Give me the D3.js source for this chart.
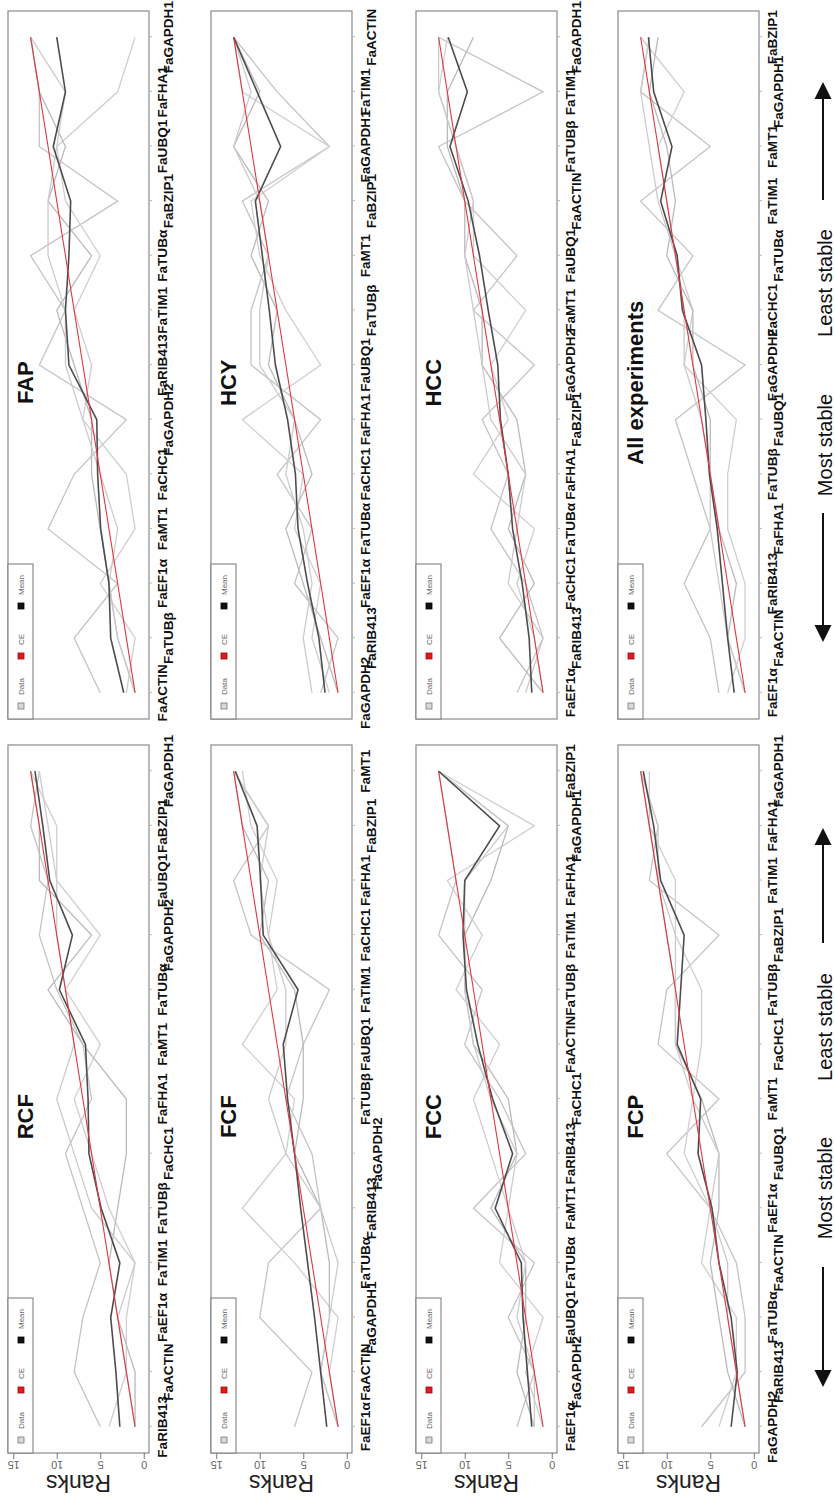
<!DOCTYPE html>
<html>
<head>
<meta charset="utf-8">
<script src="https://cdn.jsdelivr.net/npm/d3@7"></script>
<style>
  body { margin: 0; background: #fff; }
  svg { display: block; }
  text { font-family: "Liberation Sans", Arial, sans-serif; }
</style>
</head>
<body>
<svg id="fig" width="835" height="1501"></svg>
<script>
// ---- Data: gene orders, per-method ranks, mean rank and comprehensive (CE) rank ----
const ceRanks = [1, 2, 3, 4, 5, 6, 7, 8, 9, 10, 11, 12, 13];
const rankTicks = [0, 5, 10, 15];
const legendLabels = ["Data", "CE", "Mean"];

const rcfGenes = ["FaRIB413","FaACTIN","FaEF1α","FaTIM1","FaTUBβ","FaCHC1","FaFHA1","FaMT1","FaTUBα","FaGAPDH2","FaUBQ1","FaBZIP1","FaGAPDH1"];
const rcfSeries = [
  [5, 8, 7, 5, 7, 9, 6, 7, 10, 12, 11, 13, 12],
  [4, 2, 2, 1, 4, 6, 8, 5, 9, 5, 10, 10, 13],
  [1, 1, 3, 4, 3, 2, 2, 7, 11, 6, 12, 12, 13],
  [1, 2, 3, 1, 6, 8, 10, 8, 9, 10, 10, 11, 12]
];
const rcfMean = [2.75, 3.2, 3.8, 2.75, 4.9, 6.3, 6.4, 6.7, 9.7, 8.2, 10.8, 11.6, 12.5];

const fapGenes = ["FaACTIN","FaTUBβ","FaEF1α","FaMT1","FaCHC1","FaGAPDH2","FaRIB413","FaTIM1","FaTUBα","FaBZIP1","FaUBQ1","FaFHA1","FaGAPDH1"];
const fapSeries = [
  [5, 8, 3, 11, 8, 2, 12, 9, 13, 3, 12, 12, 13],
  [2, 1, 5, 1, 2, 7, 6, 8, 5, 9, 10, 3, 1],
  [1, 3, 4, 5, 6, 6, 8, 10, 6, 11, 9, 12, 13],
  [1, 3, 4, 3, 5, 7, 9, 9, 11, 11, 10, 9, 13]
];
const fapMean = [2.3, 3.8, 4.0, 4.95, 5.3, 5.4, 8.6, 9.0, 8.6, 8.4, 10.4, 9.0, 10.0];

const fcfGenes = ["FaEF1α","FaACTIN","FaGAPDH1","FaTUBα","FaRIB413","FaGAPDH2","FaTUBβ","FaUBQ1","FaTIM1","FaCHC1","FaFHA1","FaBZIP1","FaMT1"];
const fcfSeries = [
  [6, 4, 10, 9, 3, 4, 7, 5, 2, 11, 13, 9, 13],
  [1, 2, 1, 6, 12, 7, 6, 12, 8, 9, 8, 11, 12],
  [1, 3, 2, 2, 3, 6, 5, 5, 6, 10, 9, 12, 13],
  [1, 3, 2, 1, 3, 7, 9, 7, 7, 9, 10, 9, 13]
];
const fcfMean = [2.3, 3.0, 3.7, 4.5, 5.3, 6.0, 6.8, 7.3, 5.6, 9.6, 9.9, 10.3, 12.8];

const hcyGenes = ["FaGAPDH2","FaRIB413","FaEF1α","FaTUBα","FaCHC1","FaFHA1","FaUBQ1","FaTUBβ","FaMT1","FaBZIP1","FaGAPDH1","FaTIM1","FaACTIN"];
const hcySeries = [
  [3, 1, 6, 4, 8, 3, 11, 11, 9, 12, 2, 8, 13],
  [2, 4, 3, 6, 5, 12, 3, 7, 10, 11, 2, 12, 13],
  [1, 3, 5, 7, 4, 6, 9, 8, 11, 9, 13, 10, 13],
  [4, 5, 4, 5, 7, 6, 10, 10, 9, 10, 13, 11, 13]
];
const hcyMean = [2.5, 3.2, 4.5, 5.6, 5.9, 6.8, 8.2, 8.9, 9.7, 10.5, 7.6, 10.3, 13.0];

const fccGenes = ["FaEF1α","FaGAPDH2","FaUBQ1","FaTUBα","FaMT1","FaRIB413","FaCHC1","FaACTIN","FaTUBβ","FaTIM1","FaFHA1","FaGAPDH1","FaBZIP1"];
const fccSeries = [
  [4, 2, 5, 2, 9, 3, 6, 10, 8, 13, 11, 12, 13],
  [1, 3, 1, 6, 5, 7, 9, 6, 11, 8, 12, 2, 13],
  [2, 4, 3, 3, 7, 4, 5, 9, 10, 10, 7, 5, 13],
  [2, 2, 4, 3, 5, 4, 7, 9, 10, 10, 10, 5, 13]
];
const fccMean = [2.3, 2.8, 3.3, 3.5, 6.5, 4.5, 6.8, 8.5, 9.8, 10.2, 10.0, 6.0, 13.0];

const hccGenes = ["FaEF1α","FaRIB413","FaCHC1","FaTUBα","FaFHA1","FaBZIP1","FaGAPDH2","FaMT1","FaUBQ1","FaACTIN","FaTUBβ","FaTIM1","FaGAPDH1"];
const hccSeries = [
  [4, 1, 3, 7, 5, 8, 2, 9, 4, 10, 13, 1, 13],
  [1, 2, 4, 2, 9, 5, 7, 3, 9, 9, 11, 13, 12],
  [1, 6, 2, 5, 3, 4, 8, 8, 10, 10, 12, 12, 9],
  [3, 1, 5, 4, 3, 7, 8, 9, 10, 9, 11, 13, 13]
];
const hccMean = [2.3, 2.6, 3.4, 4.5, 5.0, 5.9, 6.2, 7.3, 8.3, 9.6, 11.7, 9.7, 11.9];

const fcpGenes = ["FaGAPDH2","FaRIB413","FaTUBα","FaACTIN","FaEF1α","FaUBQ1","FaMT1","FaCHC1","FaTUBβ","FaBZIP1","FaTIM1","FaFHA1","FaGAPDH1"];
const fcpSeries = [
  [6, 1, 1, 2, 5, 10, 4, 11, 10, 4, 12, 11, 13],
  [4, 2, 2, 6, 5, 8, 7, 6, 6, 9, 9, 12, 12],
  [1, 3, 4, 5, 4, 4, 6, 9, 9, 10, 11, 12, 13],
  [1, 2, 3, 3, 5, 4, 7, 9, 9, 9, 11, 11, 13]
];
const fcpMean = [2.6, 1.9, 2.6, 4.0, 4.8, 6.4, 6.1, 8.8, 8.4, 8.0, 10.7, 11.5, 12.7];

const allGenes = ["FaEF1α","FaACTIN","FaRIB413","FaFHA1","FaTUBβ","FaUBQ1","FaGAPDH2","FaCHC1","FaTUBα","FaTIM1","FaMT1","FaGAPDH1","FaBZIP1"];
const allSeries = [
  [4, 5, 8, 5, 7, 9, 1, 11, 7, 13, 5, 13, 12],
  [3, 1, 1, 3, 3, 2, 8, 7, 9, 10, 11, 8, 13],
  [1, 3, 2, 4, 5, 5, 7, 7, 10, 9, 10, 12, 11],
  [1, 3, 4, 5, 5, 6, 8, 8, 9, 11, 12, 13, 12]
];
const allMean = [2.25, 3.0, 3.6, 4.2, 5.1, 5.5, 6.0, 8.2, 8.8, 10.7, 9.4, 11.5, 12.1];

// ---- Label staggering (which text line each gene name sits on) ----
const rcfTiers = [0,1,0,0,0,1,0,0,0,1,0,0,1];
const fapTiers = [0,1,0,0,0,1,0,0,0,1,0,0,1];
const fcfTiers = [0,0,1,0,1,2,0,0,0,0,0,1,0];
const hcyTiers = [0,1,0,0,0,0,0,1,0,1,0,0,1];
const fccTiers = [0,1,0,0,0,0,1,0,0,0,0,1,0];
const hccTiers = [0,1,0,0,0,1,0,0,0,1,0,0,1];
const fcpTiers = [0,1,0,1,0,1,0,1,0,1,0,0,1];
const allTiers = [0,1,0,1,0,1,0,0,1,0,0,1,0];

// ---- Layout (drawn in landscape frame, then turned a quarter turn) ----
const FIG_W = 1501;
const rowTops = [8, 211, 416, 618];
const colLefts = [48, 782];
const PW = 708, PH = 141;

const panels = [
  { title: "RCF", genes: rcfGenes, series: rcfSeries, mean: rcfMean, tiers: rcfTiers, row: 0, col: 0 },
  { title: "FAP", genes: fapGenes, series: fapSeries, mean: fapMean, tiers: fapTiers, row: 0, col: 1 },
  { title: "FCF", genes: fcfGenes, series: fcfSeries, mean: fcfMean, tiers: fcfTiers, row: 1, col: 0 },
  { title: "HCY", genes: hcyGenes, series: hcySeries, mean: hcyMean, tiers: hcyTiers, row: 1, col: 1 },
  { title: "FCC", genes: fccGenes, series: fccSeries, mean: fccMean, tiers: fccTiers, row: 2, col: 0 },
  { title: "HCC", genes: hccGenes, series: hccSeries, mean: hccMean, tiers: hccTiers, row: 2, col: 1 },
  { title: "FCP", genes: fcpGenes, series: fcpSeries, mean: fcpMean, tiers: fcpTiers, row: 3, col: 0 },
  { title: "All experiments", genes: allGenes, series: allSeries, mean: allMean, tiers: allTiers, row: 3, col: 1 }
];

const greyShades = ["#c4c4c4", "#cfcfcf", "#bababa", "#cbcbcb"];
const legendFill = ["#d9d9d9", "#d81e1e", "#111"];
const legendStroke = ["#777", "#a00", "#000"];

const svg = d3.select("#fig");
const root = svg.append("g")
  .attr("transform", `translate(0,${FIG_W}) rotate(-90)`);

panels.forEach(p => {
  const L = colLefts[p.col], T = rowTops[p.row];
  const x = d3.scaleLinear().domain([0.52, 13.48]).range([L, L + PW]);
  const y = d3.scaleLinear().domain([-0.6, 15.6]).range([T + PH, T]);
  const g = root.append("g");

  const line = d3.line().x((d, i) => x(i + 1)).y(d => y(d));

  // method ranks
  g.selectAll("path.data").data(p.series).join("path")
    .attr("class", "data")
    .attr("d", line)
    .attr("fill", "none")
    .attr("stroke", (d, i) => greyShades[i % greyShades.length])
    .attr("stroke-width", 1.3);

  // mean rank
  g.append("path").datum(p.mean)
    .attr("d", line).attr("fill", "none")
    .attr("stroke", "#4d4d4d").attr("stroke-width", 1.6);

  // comprehensive evaluation
  g.append("path").datum(ceRanks)
    .attr("d", line).attr("fill", "none")
    .attr("stroke", "#e0383e").attr("stroke-width", 1.1);

  // frame
  g.append("rect")
    .attr("x", L).attr("y", T).attr("width", PW).attr("height", PH)
    .attr("fill", "none").attr("stroke", "#8a8a8a").attr("stroke-width", 1.2);

  // gene axis ticks
  const gx = g.append("g").attr("transform", `translate(0,${T + PH})`)
    .call(d3.axisBottom(x).tickValues(ceRanks).tickSize(3).tickFormat(""));
  gx.select(".domain").remove();
  gx.selectAll("line").attr("stroke", "#b8b8b8");

  // gene labels
  g.selectAll("text.gene").data(p.genes).join("text")
    .attr("class", "gene")
    .attr("transform", (d, i) =>
      `translate(${x(i + 1)},${T + PH + 18 + p.tiers[i] * 6}) scale(1.13,1)`)
    .attr("text-anchor", "middle")
    .attr("font-size", 12)
    .attr("font-weight", "bold")
    .attr("fill", "#111")
    .text(d => d);

  // title
  g.append("text")
    .attr("x", L + PW * 0.475).attr("y", T + 25)
    .attr("text-anchor", "middle")
    .attr("font-size", 22).attr("font-weight", "bold").attr("fill", "#111")
    .text(p.title);

  // legend
  const lg = g.append("g");
  lg.append("rect").attr("x", L).attr("y", T).attr("width", 155).attr("height", 25)
    .attr("fill", "#fff").attr("stroke", "#777").attr("stroke-width", 1);
  legendLabels.forEach((lab, i) => {
    const cx = L + 13 + i * 50;
    lg.append("rect").attr("x", cx - 3).attr("y", T + 10).attr("width", 6).attr("height", 6)
      .attr("fill", legendFill[i]).attr("stroke", legendStroke[i]).attr("stroke-width", 0.8);
    lg.append("text").attr("x", cx + 11).attr("y", T + 16)
      .attr("font-size", 8).attr("fill", "#666").text(lab);
  });

  // rank axis on the left-hand panels
  if (p.col === 0) {
    const ya = g.append("g").attr("transform", `translate(${L},0)`)
      .call(d3.axisLeft(y).tickValues(rankTicks).tickSize(6));
    ya.select(".domain").remove();
    ya.selectAll("line").attr("stroke", "#777");
    ya.selectAll("text")
      .attr("x", null).attr("dy", null)
      .attr("transform", "translate(-8,0) rotate(-90)")
      .attr("text-anchor", "middle")
      .attr("font-size", 11).attr("fill", "#666")
      .attr("font-family", "Liberation Sans, Arial, sans-serif");
    g.append("text")
      .attr("transform", `translate(${L - 22},${T + PH / 2}) rotate(-90)`)
      .attr("text-anchor", "middle")
      .attr("font-size", 23).attr("fill", "#222")
      .text("Ranks");
  }
});

// stability arrows along the bottom
const arrowSets = [
  { mostTip: 114, mostStart: 234, mostText: 313, leastText: 474, leastStart: 558, leastTip: 673 },
  { mostTip: 859, mostStart: 988, mostText: 1056, leastText: 1218, leastStart: 1301, leastTip: 1419 }
];
const AY = 823;
arrowSets.forEach(a => {
  const ag = root.append("g");
  [[a.mostStart, a.mostTip], [a.leastStart, a.leastTip]].forEach(([s, t]) => {
    const dir = Math.sign(t - s);
    ag.append("line").attr("x1", s).attr("y1", AY).attr("x2", t - dir * 14).attr("y2", AY)
      .attr("stroke", "#111").attr("stroke-width", 2);
    ag.append("path")
      .attr("d", `M${t},${AY} L${t - dir * 17},${AY - 8.5} L${t - dir * 17},${AY + 8.5} Z`)
      .attr("fill", "#111");
  });
  ag.append("text").attr("x", a.mostText).attr("y", AY + 9).attr("text-anchor", "middle")
    .attr("font-size", 20).attr("fill", "#111").text("Most stable");
  ag.append("text").attr("x", a.leastText).attr("y", AY + 9).attr("text-anchor", "middle")
    .attr("font-size", 20).attr("fill", "#111").text("Least stable");
});
</script>
</body>
</html>
